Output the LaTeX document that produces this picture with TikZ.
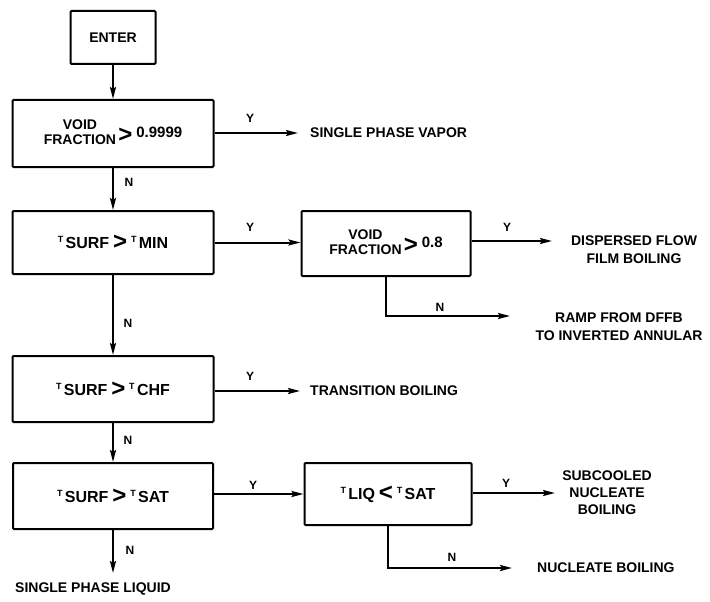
\documentclass[tikz,border=0pt]{standalone}
\usepackage{fontspec}
\setmainfont{Liberation Sans}
\usetikzlibrary{arrows.meta}
\newcommand{\Tsub}[1]{\raisebox{6pt}{\fontsize{9}{9}\selectfont T}\,{\fontsize{16}{16}\selectfont #1}}
\newcommand{\bigrel}[1]{\raisebox{-1pt}{\fontsize{24}{24}\selectfont #1}}
\begin{document}
\begin{tikzpicture}[x=1pt,y=-1pt,
  every node/.style={font=\fontsize{14}{15}\selectfont\bfseries},
  box/.style={draw,line width=2pt,rounded corners=1pt,inner sep=0pt,align=center},
  conn/.style={line width=2pt,-{Stealth[length=12pt,width=6pt,inset=2pt]}},
  lbl/.style={font=\fontsize{12}{14}\selectfont\bfseries,inner sep=0pt},
  outtxt/.style={font=\fontsize{14}{16}\selectfont\bfseries,inner sep=0pt,align=center}]
\useasboundingbox (0,0) rectangle (710,602);

\node[box,minimum width=85pt,minimum height=53pt] (enter) at (113,37.5) {ENTER};
\node[box,minimum width=201pt,minimum height=67pt] (vf1) at (113,133.5)
  {\begin{tabular}{@{}c@{}}VOID\\FRACTION\end{tabular}\,\raisebox{-4pt}{\bigrel{>}}\ {\fontsize{15}{15}\selectfont 0.9999}};
\node[box,minimum width=201pt,minimum height=63pt] (tmin) at (113,242.5)
  {\Tsub{SURF} \bigrel{>} \Tsub{MIN}};
\node[box,minimum width=169pt,minimum height=65pt] (vf2) at (386,243.5)
  {\begin{tabular}{@{}c@{}}VOID\\FRACTION\end{tabular}\,\raisebox{-4pt}{\bigrel{>}}\ {\fontsize{15}{15}\selectfont 0.8}};
\node[box,minimum width=201pt,minimum height=66pt] (tchf) at (113,389)
  {\Tsub{SURF} \bigrel{>} \Tsub{CHF}};
\node[box,minimum width=200pt,minimum height=66pt] (tsat) at (113,496)
  {\Tsub{SURF} \bigrel{>} \Tsub{SAT}};
\node[box,minimum width=167pt,minimum height=62pt] (tliq) at (388,494)
  {\Tsub{LIQ} \bigrel{<} \Tsub{SAT}};

% outputs
\node[outtxt,anchor=west] (spv) at (310,133) {SINGLE PHASE VAPOR};
\node[outtxt] (dffb) at (634,250) {DISPERSED FLOW\\[2pt]FILM BOILING};
\node[outtxt] (ramp) at (619,327) {RAMP FROM DFFB\\[2pt]TO INVERTED ANNULAR};
\node[outtxt,anchor=west] (trb) at (310,391) {TRANSITION BOILING};
\node[outtxt] (scnb) at (607,493) {SUBCOOLED\\[1pt]NUCLEATE\\[1pt]BOILING};
\node[outtxt,anchor=west] (nb) at (537,568) {NUCLEATE BOILING};
\node[outtxt] (spl) at (93,589) {SINGLE PHASE LIQUID};

% free ends
\coordinate (e1) at (298,133);
\coordinate (e2) at (552,241);
\coordinate (e3) at (510,316);
\coordinate (e4) at (300,391);
\coordinate (e5) at (555,493);
\coordinate (e6) at (512,568);
\coordinate (e7) at (113,573);

% connectors
\draw[conn] (enter.south) -- (vf1.north);
\draw[conn] (vf1.south) -- (tmin.north);
\draw[conn] (tmin.south) -- (tchf.north);
\draw[conn] (tchf.south) -- (tsat.north);
\draw[conn] (tsat.south) -- (e7);
\draw[conn] (vf1.east |- e1) -- (e1);
\draw[conn] (tmin.east) -- (tmin.east -| vf2.west);
\draw[conn] (vf2.east |- e2) -- (e2);
\draw[conn] (vf2.south) |- (e3);
\draw[conn] (tchf.east |- e4) -- (e4);
\draw[conn] (tsat.east |- tliq.west) -- (tliq.west);
\draw[conn] (tliq.east |- e5) -- (e5);
\draw[conn] (tliq.south) |- (e6);

% labels
\node[lbl] (y1) at (250,118) {Y};
\node[lbl] (y2) at (250,227) {Y};
\node[lbl] (y3) at (507,227) {Y};
\node[lbl] (y4) at (250,376) {Y};
\node[lbl] (y5) at (253,485) {Y};
\node[lbl] (y6) at (506,483) {Y};
\node[lbl] (n1) at (129,182) {N};
\node[lbl] (n2) at (128,323) {N};
\node[lbl] (n3) at (128,440) {N};
\node[lbl] (n4) at (440,307) {N};
\node[lbl] (n5) at (130,550) {N};
\node[lbl] (n6) at (452,557) {N};
\end{tikzpicture}
\end{document}
